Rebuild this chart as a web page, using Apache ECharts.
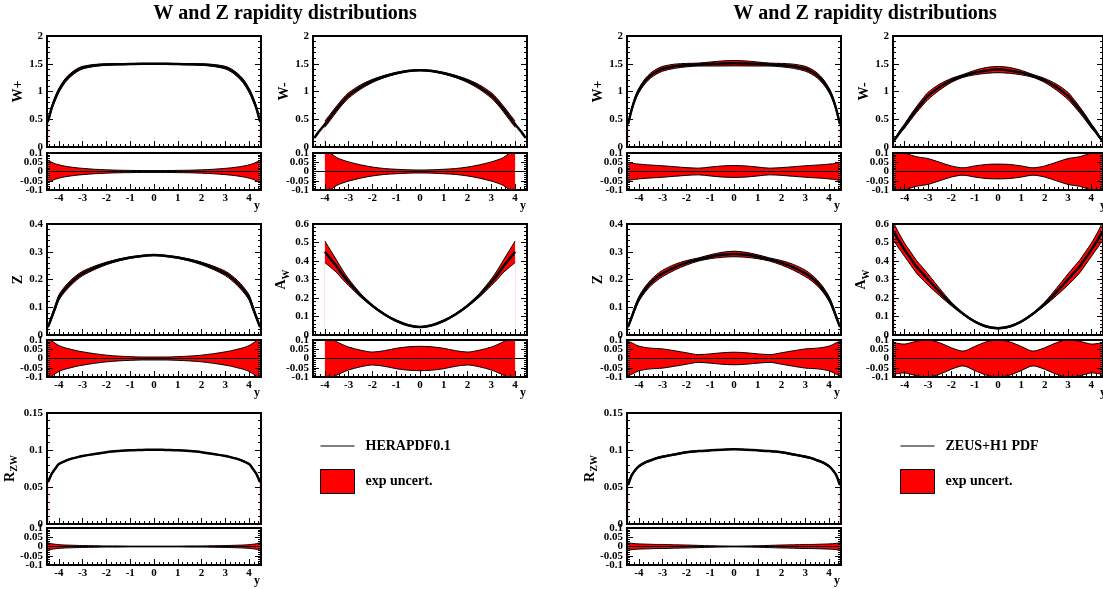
<!DOCTYPE html>
<html><head><meta charset="utf-8">
<script src="https://cdn.jsdelivr.net/npm/echarts@6/dist/echarts.min.js"></script>
<style>html,body{margin:0;padding:0;background:#fff}#c{width:1103px;height:589px}</style>
</head><body><div id="c"></div>
<script>
const TITLE = 'W and Z rapidity distributions';
const X_FULL = [-4.45,-4.3,-4.15,-4.0,-3.75,-3.5,-3.25,-3.0,-2.5,-2.0,-1.5,-1.0,-0.5,0,0.5,1.0,1.5,2.0,2.5,3.0,3.25,3.5,3.75,4.0,4.15,4.3,4.45];
const X_CUT = [-4.0,-3.75,-3.5,-3.25,-3.0,-2.5,-2.0,-1.5,-1.0,-0.5,0,0.5,1.0,1.5,2.0,2.5,3.0,3.25,3.5,3.75,4.0];
const X_TICKS = [-4,-3,-2,-1,0,1,2,3,4];
const X_MINOR = [-4.4,-4.2,-3.8,-3.6,-3.4,-3.2,-2.8,-2.6,-2.4,-2.2,-1.8,-1.6,-1.4,-1.2,-0.8,-0.6,-0.4,-0.2,0.2,0.4,0.6,0.8,1.2,1.4,1.6,1.8,2.2,2.4,2.6,2.8,3.2,3.4,3.6,3.8,4.2,4.4];
const RATIO_LABELS_A = [-0.1,0,0.1];
const RATIO_LABELS_B = [-0.05,0.05];

// HERAPDF0.1 (left panel)
const HERA_WP = [0.47,0.71,0.88,1.02,1.19,1.30,1.38,1.43,1.47,1.485,1.49,1.495,1.5,1.5,1.5,1.495,1.49,1.485,1.47,1.43,1.38,1.30,1.19,1.02,0.88,0.71,0.47];
const HERA_WP_ERR = [0.06,0.05,0.042,0.036,0.029,0.024,0.02,0.017,0.012,0.009,0.007,0.006,0.005,0.005,0.005,0.006,0.007,0.009,0.012,0.017,0.02,0.024,0.029,0.036,0.042,0.05,0.06];
const HERA_WM = [0.16,0.25,0.33,0.41,0.55,0.69,0.82,0.93,1.08,1.19,1.27,1.33,1.37,1.385,1.37,1.33,1.27,1.19,1.08,0.93,0.82,0.69,0.55,0.41,0.33,0.25,0.16];
const HERA_WM_ERR = [0.14,0.1,0.075,0.062,0.052,0.036,0.024,0.016,0.012,0.009,0.008,0.009,0.012,0.016,0.024,0.036,0.052,0.062,0.075,0.1,0.14];
const HERA_Z = [0.03,0.065,0.1,0.135,0.165,0.188,0.207,0.222,0.242,0.258,0.27,0.279,0.285,0.288,0.285,0.279,0.27,0.258,0.242,0.222,0.207,0.188,0.165,0.135,0.1,0.065,0.03];
const HERA_Z_ERR = [0.11,0.095,0.082,0.07,0.058,0.05,0.042,0.036,0.026,0.018,0.013,0.01,0.008,0.008,0.008,0.01,0.013,0.018,0.026,0.036,0.042,0.05,0.058,0.07,0.082,0.095,0.11];
const HERA_AW = [0.45,0.41,0.37,0.325,0.285,0.215,0.158,0.112,0.077,0.053,0.043,0.053,0.077,0.112,0.158,0.215,0.285,0.325,0.37,0.41,0.45];
const HERA_AW_ERR = [0.13,0.11,0.09,0.075,0.062,0.045,0.035,0.042,0.055,0.063,0.066,0.063,0.055,0.042,0.035,0.045,0.062,0.075,0.09,0.11,0.13];
const HERA_RZW = [0.057,0.068,0.075,0.081,0.085,0.088,0.09,0.092,0.0945,0.097,0.0985,0.0995,0.1,0.1005,0.1,0.0995,0.0985,0.097,0.0945,0.092,0.09,0.088,0.085,0.081,0.075,0.068,0.057];
const HERA_RZW_ERR = [0.02,0.015,0.012,0.01,0.008,0.007,0.006,0.005,0.004,0.003,0.003,0.002,0.002,0.002,0.002,0.002,0.003,0.003,0.004,0.005,0.006,0.007,0.008,0.01,0.012,0.015,0.02];

// ZEUS+H1 PDF (right panel)
const ZH_WP = [0.42,0.68,0.88,1.02,1.18,1.29,1.36,1.41,1.455,1.475,1.485,1.495,1.505,1.51,1.505,1.495,1.485,1.475,1.455,1.41,1.36,1.29,1.18,1.02,0.88,0.68,0.42];
const ZH_WP_ERR = [0.05,0.045,0.042,0.04,0.037,0.035,0.033,0.031,0.026,0.021,0.018,0.024,0.03,0.032,0.03,0.024,0.018,0.021,0.026,0.031,0.033,0.035,0.037,0.04,0.042,0.045,0.05];
const ZH_WM = [0.12,0.21,0.3,0.38,0.53,0.67,0.8,0.92,1.08,1.2,1.28,1.34,1.38,1.395,1.38,1.34,1.28,1.2,1.08,0.92,0.8,0.67,0.53,0.38,0.3,0.21,0.12];
const ZH_WM_ERR = [0.12,0.115,0.11,0.1,0.09,0.08,0.075,0.07,0.05,0.03,0.02,0.03,0.038,0.04,0.038,0.03,0.02,0.03,0.05,0.07,0.075,0.08,0.09,0.1,0.11,0.115,0.12];
const ZH_Z = [0.03,0.065,0.1,0.13,0.163,0.188,0.207,0.222,0.244,0.26,0.272,0.282,0.289,0.292,0.289,0.282,0.272,0.26,0.244,0.222,0.207,0.188,0.163,0.13,0.1,0.065,0.03];
const ZH_Z_ERR = [0.093,0.085,0.075,0.067,0.06,0.056,0.054,0.052,0.042,0.031,0.021,0.025,0.031,0.034,0.031,0.025,0.021,0.031,0.042,0.052,0.054,0.056,0.06,0.067,0.075,0.085,0.093];
const ZH_AW = [0.555,0.52,0.49,0.46,0.415,0.37,0.335,0.3,0.232,0.168,0.115,0.073,0.046,0.037,0.046,0.073,0.115,0.168,0.232,0.3,0.335,0.37,0.415,0.46,0.49,0.52,0.555];
const ZH_AW_ERR = [0.085,0.082,0.079,0.078,0.085,0.093,0.098,0.1,0.085,0.058,0.04,0.065,0.09,0.1,0.09,0.065,0.04,0.058,0.085,0.1,0.098,0.093,0.085,0.078,0.079,0.082,0.085];
const ZH_RZW = [0.053,0.066,0.073,0.078,0.083,0.086,0.089,0.091,0.094,0.097,0.0985,0.0995,0.1003,0.101,0.1003,0.0995,0.0985,0.097,0.094,0.091,0.089,0.086,0.083,0.078,0.073,0.066,0.053];
const ZH_RZW_ERR = [0.02,0.017,0.015,0.014,0.013,0.012,0.011,0.011,0.009,0.008,0.006,0.004,0.003,0.002,0.003,0.004,0.006,0.008,0.009,0.011,0.011,0.012,0.013,0.014,0.015,0.017,0.02];

const LEGEND_NAMES = ['HERAPDF0.1', 'ZEUS+H1 PDF'];
const BAND_NAME = 'exp uncert.';

const PLOTS = [
  {p:0,row:0,col:0,name:'W+', yr:[0,2,0.5],   cx:X_FULL,c:HERA_WP, ex:X_FULL,e:HERA_WP_ERR},
  {p:0,row:0,col:1,name:'W-', yr:[0,2,0.5],   cx:X_FULL,c:HERA_WM, ex:X_CUT, e:HERA_WM_ERR},
  {p:0,row:1,col:0,name:'Z',  yr:[0,0.4,0.1], cx:X_FULL,c:HERA_Z,  ex:X_FULL,e:HERA_Z_ERR},
  {p:0,row:1,col:1,name:'{a|A}{s|W}', yr:[0,0.6,0.1], cx:X_CUT,c:HERA_AW, ex:X_CUT,e:HERA_AW_ERR},
  {p:0,row:2,col:0,name:'{a|R}{s|ZW}', yr:[0,0.15,0.05], cx:X_FULL,c:HERA_RZW, ex:X_FULL,e:HERA_RZW_ERR},
  {p:1,row:0,col:0,name:'W+', yr:[0,2,0.5],   cx:X_FULL,c:ZH_WP, ex:X_FULL,e:ZH_WP_ERR},
  {p:1,row:0,col:1,name:'W-', yr:[0,2,0.5],   cx:X_FULL,c:ZH_WM, ex:X_FULL,e:ZH_WM_ERR},
  {p:1,row:1,col:0,name:'Z',  yr:[0,0.4,0.1], cx:X_FULL,c:ZH_Z,  ex:X_FULL,e:ZH_Z_ERR},
  {p:1,row:1,col:1,name:'{a|A}{s|W}', yr:[0,0.6,0.1], cx:X_FULL,c:ZH_AW, ex:X_FULL,e:ZH_AW_ERR},
  {p:1,row:2,col:0,name:'{a|R}{s|ZW}', yr:[0,0.15,0.05], cx:X_FULL,c:ZH_RZW, ex:X_FULL,e:ZH_RZW_ERR}
];

const FONT = 'Liberation Serif';
const L = {dx:[0,580], colLeft:[47,313], mainTop:[36,224,413], mainH:111, ratioTop:[153,340,528], ratioH:37, w:214};
const txt = (s)=>({fontFamily:FONT,fontWeight:'bold',fontSize:s,color:'#000'});

const grids=[], xAxes=[], yAxes=[], series=[], graphics=[];

function addGrid(left, top, h){
  grids.push({left, top, width:L.w, height:h, show:true, z:10, borderColor:'#000', borderWidth:2, backgroundColor:'transparent'});
  return grids.length-1;
}
function addX(gi, labels){
  const base = {type:'value', gridIndex:gi, min:-4.5, max:4.5, position:'bottom', z:10,
    axisLine:{show:false,onZero:false}, splitLine:{show:false}};
  xAxes.push(Object.assign({}, base, {
    axisTick:{show:true, inside:true, length:6, customValues:X_TICKS, lineStyle:{color:'#000',width:1}},
    axisLabel:labels ? Object.assign({show:true, margin:3, customValues:X_TICKS, showMinLabel:true, showMaxLabel:true}, txt(11)) : {show:false}
  }));
  const xi = xAxes.length-1;
  xAxes.push(Object.assign({}, base, {
    axisTick:{show:true, inside:true, length:3, customValues:X_MINOR, lineStyle:{color:'#000',width:1}},
    axisLabel:{show:false}
  }));
  return xi;
}
function addY(gi, yr, name, ratio){
  const base = {type:'value', gridIndex:gi, min:yr[0], max:yr[1], interval:yr[2], z:10,
    axisLine:{show:false,onZero:false}, splitLine:{show:false},
    axisTick:{show:true, inside:true, length:6, lineStyle:{color:'#000',width:1}},
    minorTick:{show:true, splitNumber:5, length:3, lineStyle:{color:'#000',width:1}}};
  const lab = Object.assign({show:true, margin:4, showMinLabel:true, showMaxLabel:true, hideOverlap:false}, txt(11));
  if (ratio) { lab.lineHeight = 8; lab.customValues = RATIO_LABELS_A; }
  yAxes.push(Object.assign({}, base, {position:'left', axisLabel:lab,
    name: name || '', nameLocation:'middle', nameGap:22,
    nameTextStyle:Object.assign({}, txt(14), {rich:{a:txt(14), s:Object.assign({}, txt(10), {padding:[9,0,0,0]})}})
  }));
  const yi = yAxes.length-1;
  yAxes.push(Object.assign({}, base, {position:'right', axisLabel:{show:false}}));
  if (ratio) {
    yAxes.push(Object.assign({}, base, {position:'left', axisTick:{show:false}, minorTick:{show:false},
      axisLabel:Object.assign({show:true, margin:4, lineHeight:8, customValues:RATIO_LABELS_B, hideOverlap:false}, txt(11))}));
  }
  return yi;
}

PLOTS.forEach((pl, k)=>{
  const left = L.dx[pl.p] + L.colLeft[pl.col];
  const common = (xi, yi)=>({type:'line', xAxisIndex:xi, yAxisIndex:yi, symbol:'none', smooth:0.3, silent:true, animation:false});
  const cmap = new Map(pl.cx.map((x,i)=>[x, pl.c[i]]));
  // main plot: red area up to the upper edge, white area up to the lower edge, central line on top
  const gm = addGrid(left, L.mainTop[pl.row], L.mainH);
  const xm = addX(gm, false), ym = addY(gm, pl.yr, pl.name, false);
  series.push(Object.assign(common(xm,ym), {name:BAND_NAME,
    data: pl.ex.map((x,i)=>[x, cmap.get(x)*(1+pl.e[i])]), lineStyle:{color:'#000',width:1},
    areaStyle:{color:'#ff0000', opacity:1, origin:'start'}}));
  series.push(Object.assign(common(xm,ym), {
    data: pl.ex.map((x,i)=>[x, cmap.get(x)*(1-pl.e[i])]), lineStyle:{color:'#000',width:1},
    areaStyle:{color:'#ffffff', opacity:1, origin:'start'}}));
  series.push(Object.assign(common(xm,ym), {name:LEGEND_NAMES[pl.p],
    data: pl.cx.map((x,i)=>[x, pl.c[i]]), lineStyle:{color:'#000',width:2.5}, itemStyle:{color:'#000'}}));
  // ratio plot
  const gr = addGrid(left, L.ratioTop[pl.row], L.ratioH);
  const xr = addX(gr, true), yr = addY(gr, [-0.1,0.1,0.05], '', true);
  series.push(Object.assign(common(xr,yr), {
    data: pl.ex.map((x,i)=>[x, pl.e[i]]), lineStyle:{color:'#000',width:1},
    areaStyle:{color:'#ff0000', opacity:1, origin:'start'}}));
  series.push(Object.assign(common(xr,yr), {
    data: pl.ex.map((x,i)=>[x, -pl.e[i]]), lineStyle:{color:'#000',width:1},
    areaStyle:{color:'#ffffff', opacity:1, origin:'start'}}));
  series.push(Object.assign(common(xr,yr), {smooth:false,
    data: [[-4.5,0],[4.5,0]], lineStyle:{color:'#000',width:1}}));
  graphics.push({type:'text', x:left+L.w-1, y:L.ratioTop[pl.row]+L.ratioH+16,
    style:{text:'y', font:'bold 12px "Liberation Serif"', fill:'#000', textAlign:'right', align:'right', textVerticalAlign:'middle', verticalAlign:'middle'}});
});

L.dx.forEach(dx=>{
  graphics.push({type:'text', x:285+dx, y:14,
    style:{text:TITLE, font:'bold 20px "Liberation Serif"', fill:'#000', textAlign:'center', align:'center', textVerticalAlign:'middle', verticalAlign:'middle'}});
});

const legends = LEGEND_NAMES.map((nm, p)=>({
  left: 320 + L.dx[p], top: 439, orient:'vertical', itemWidth:34, itemHeight:24, itemGap:16, padding:0,
  selectedMode:false, textStyle:Object.assign({}, txt(14), {padding:[0,0,0,6]}),
  data:[{name:nm, icon:'path://M0,0L34,0L34,1.4L0,1.4Z', itemStyle:{color:'#555', borderWidth:0}},
        {name:BAND_NAME, icon:'rect', itemStyle:{color:'#ff0000', borderColor:'#000', borderWidth:1}}]
}));

const chart = echarts.init(document.getElementById('c'), null, {renderer:'canvas'});
chart.setOption({animation:false, backgroundColor:'#fff', grid:grids, xAxis:xAxes, yAxis:yAxes, series, legend:legends, graphic:graphics});
</script></body></html>
